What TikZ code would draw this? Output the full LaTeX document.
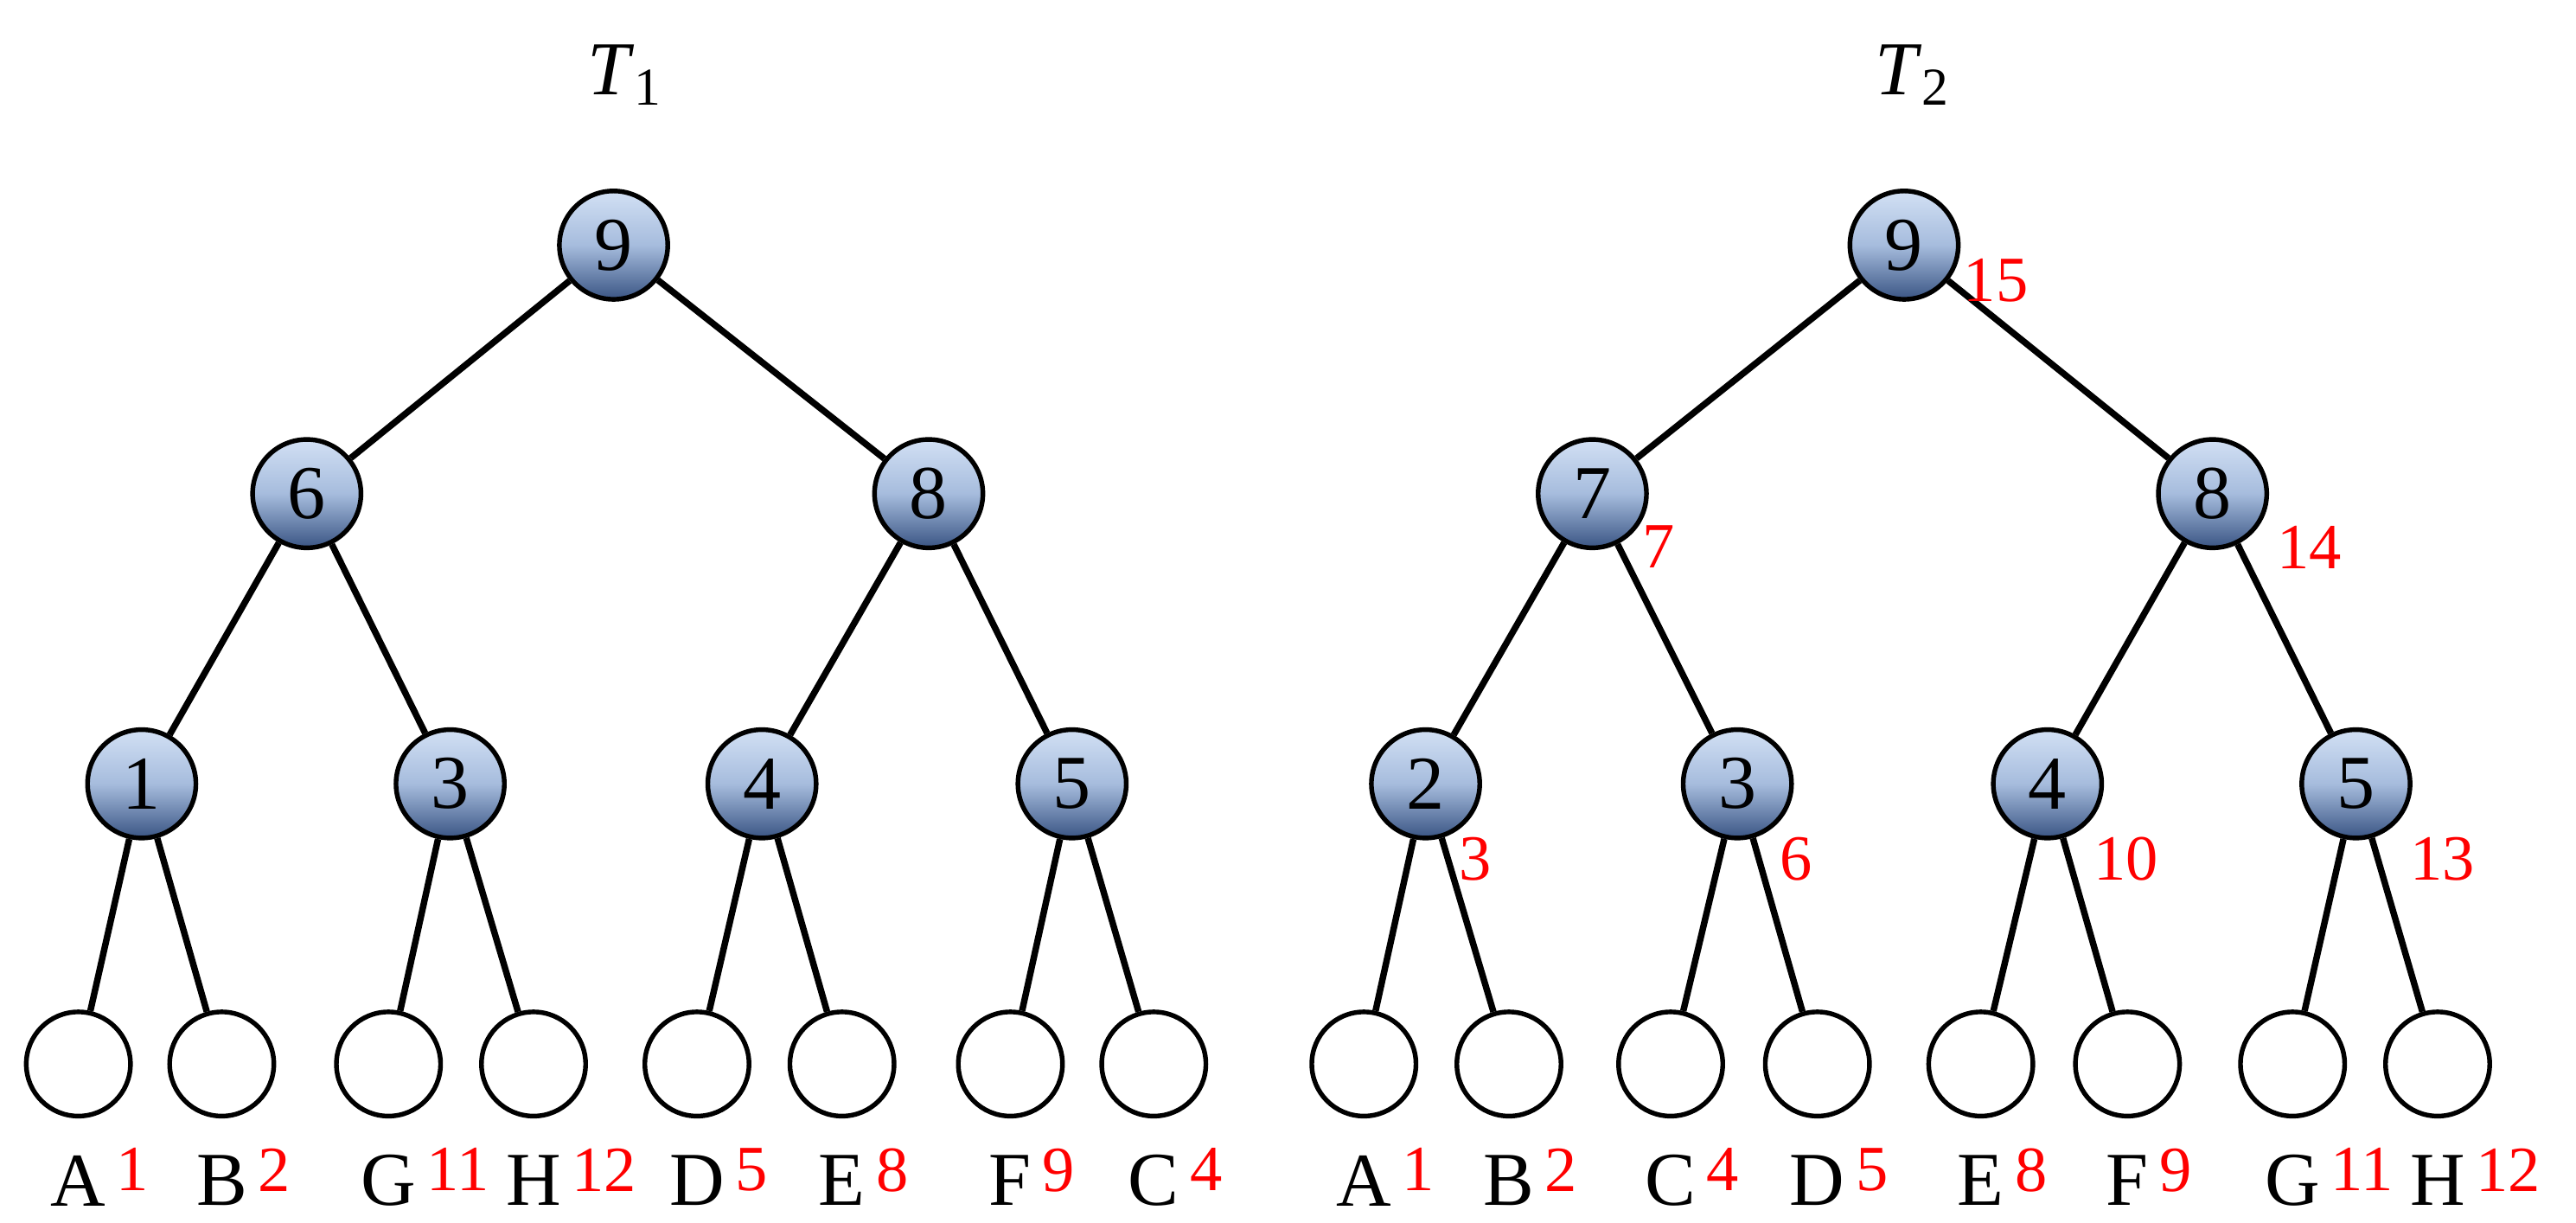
\documentclass[tikz,border=0pt]{standalone}
\usepackage{fontspec}
\setmainfont{Liberation Serif}
\definecolor{lb}{HTML}{D2E0F4}
\definecolor{mb}{HTML}{A6BCDD}
\definecolor{db}{HTML}{3A5584}
\begin{document}
\begin{tikzpicture}[x=0.02cm,y=-0.02cm,
 inner/.style={circle,draw,line width=1.6pt,minimum size=1.3cm,inner sep=0pt,top color=lb,bottom color=db,middle color=mb,font=\fontsize{26}{26}\selectfont},
 leaf/.style={circle,draw,line width=1.6pt,minimum size=1.25cm,fill=white},
 lab/.style={font=\fontsize{26}{26}\selectfont,inner sep=1pt},
 num/.style={red,font=\fontsize{22}{22}\selectfont,inner sep=0.5pt},
 every path/.style={line width=2.2pt}]
\useasboundingbox (0,0) rectangle (1545,733);
\node[lab] at (375,45) {\textit{T}\textsubscript{1}};
\node[lab] at (1147,45) {\textit{T}\textsubscript{2}};
% T1
\node[inner] (r1) at (368,147) {9};
\node[inner] (a1) at (184,296) {6};
\node[inner] (b1) at (557,296) {8};
\node[inner] (c1) at (85,470) {1};
\node[inner] (d1) at (270,470) {3};
\node[inner] (e1) at (457,470) {4};
\node[inner] (f1) at (643,470) {5};
\foreach \i/\x/\l/\n in {1/47/A/1,2/133/B/2,3/233/G/11,4/320/H/12,5/418/D/5,6/505/E/8,7/606/F/9,8/692/C/4}{
 \node[leaf] (l1\i) at (\x,638) {};
 \node[lab] (t1\i) at (\x,708) {\l};
 \node[num,anchor=north west] (n1\i) at ([yshift=2pt]t1\i.north east) {\n};}
\draw (r1)--(a1) (r1)--(b1) (a1)--(c1) (a1)--(d1) (b1)--(e1) (b1)--(f1)
 (c1)--(l11) (c1)--(l12) (d1)--(l13) (d1)--(l14) (e1)--(l15) (e1)--(l16) (f1)--(l17) (f1)--(l18);
% T2
\node[inner] (r2) at (1142,147) {9};
\node[inner] (a2) at (955,296) {7};
\node[inner] (b2) at (1327,296) {8};
\node[inner] (c2) at (855,470) {2};
\node[inner] (d2) at (1042,470) {3};
\node[inner] (e2) at (1228,470) {4};
\node[inner] (f2) at (1413,470) {5};
\foreach \i/\x/\l/\n in {1/818/A/1,2/905/B/2,3/1002/C/4,4/1090/D/5,5/1188/E/8,6/1276/F/9,7/1375/G/11,8/1462/H/12}{
 \node[leaf] (l2\i) at (\x,638) {};
 \node[lab] (t2\i) at (\x,708) {\l};
 \node[num,anchor=north west] (n2\i) at ([yshift=2pt]t2\i.north east) {\n};}
\draw (r2)--(a2) (r2)--(b2) (a2)--(c2) (a2)--(d2) (b2)--(e2) (b2)--(f2)
 (c2)--(l21) (c2)--(l22) (d2)--(l23) (d2)--(l24) (e2)--(l25) (e2)--(l26) (f2)--(l27) (f2)--(l28);
\node[num] (m1) at (1197,168) {15};
\node[num] (m2) at (995,328) {7};
\node[num] (m3) at (1385,328) {14};
\node[num] (m4) at (885,515) {3};
\node[num] (m5) at (1077,515) {6};
\node[num] (m6) at (1275,515) {10};
\node[num] (m7) at (1465,515) {13};
\end{tikzpicture}
\end{document}
